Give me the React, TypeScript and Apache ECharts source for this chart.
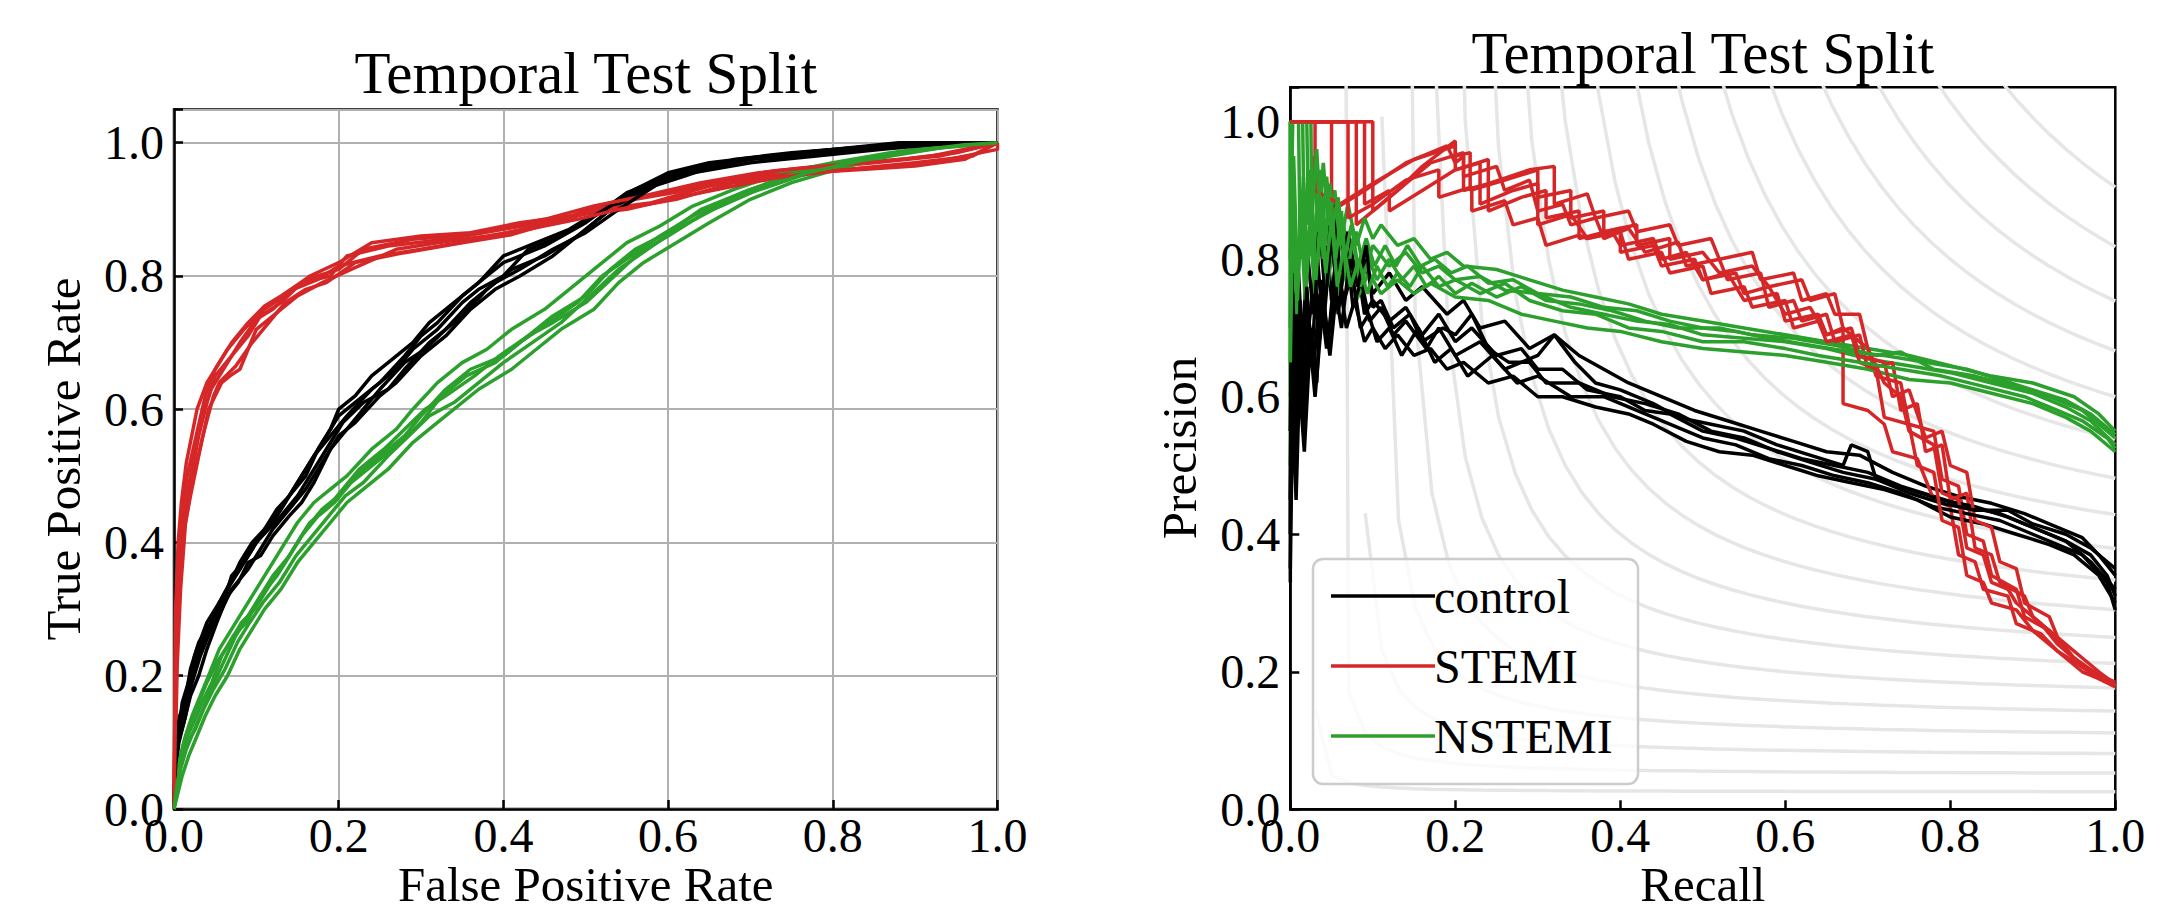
import React, { useEffect, useRef } from "react";
import * as echarts from "echarts";

type Pt = [number, number];

// ---------- ROC curves (x = False Positive Rate, y = True Positive Rate) ----------
const rocControl1: Pt[] = [[0,0],[0.002,0.08],[0.005,0.12],[0.012,0.15],[0.018,0.18],[0.027,0.22],[0.035,0.25],[0.048,0.29],[0.06,0.32],[0.075,0.35],[0.085,0.37],[0.1,0.4],[0.11,0.42],[0.13,0.45],[0.145,0.48],[0.16,0.51],[0.18,0.55],[0.2,0.59],[0.21,0.6],[0.23,0.62],[0.25,0.64],[0.28,0.68],[0.3,0.71],[0.32,0.73],[0.35,0.77],[0.38,0.8],[0.4,0.82],[0.45,0.845],[0.5,0.88],[0.55,0.925],[0.6,0.95],[0.67,0.972],[0.76,0.985],[0.85,0.995],[0.9,1],[1,1]];
const rocControl2: Pt[] = [[0,0],[0.003,0.1],[0.008,0.13],[0.015,0.17],[0.025,0.23],[0.04,0.28],[0.05,0.3],[0.065,0.33],[0.08,0.37],[0.095,0.4],[0.11,0.42],[0.125,0.45],[0.14,0.47],[0.16,0.5],[0.175,0.54],[0.19,0.57],[0.2,0.6],[0.22,0.62],[0.24,0.65],[0.26,0.67],[0.29,0.7],[0.31,0.73],[0.34,0.76],[0.37,0.79],[0.4,0.83],[0.44,0.85],[0.48,0.87],[0.52,0.9],[0.56,0.93],[0.6,0.955],[0.65,0.97],[0.72,0.98],[0.8,0.99],[0.88,1],[1,1]];
const rocControl3: Pt[] = [[0,0],[0.002,0.06],[0.006,0.1],[0.014,0.14],[0.022,0.19],[0.032,0.23],[0.045,0.27],[0.058,0.3],[0.07,0.33],[0.09,0.36],[0.105,0.39],[0.12,0.42],[0.14,0.45],[0.16,0.48],[0.18,0.52],[0.2,0.56],[0.22,0.58],[0.25,0.62],[0.27,0.64],[0.3,0.68],[0.33,0.71],[0.36,0.75],[0.39,0.78],[0.42,0.8],[0.46,0.83],[0.5,0.87],[0.54,0.91],[0.58,0.935],[0.63,0.955],[0.7,0.97],[0.78,0.98],[0.86,0.99],[0.93,0.998],[1,1]];
const rocControl4: Pt[] = [[0,0],[0.002,0.09],[0.006,0.12],[0.01,0.16],[0.02,0.2],[0.03,0.24],[0.042,0.27],[0.055,0.31],[0.068,0.34],[0.08,0.36],[0.092,0.39],[0.115,0.42],[0.13,0.44],[0.15,0.47],[0.165,0.5],[0.185,0.54],[0.205,0.58],[0.23,0.61],[0.26,0.63],[0.28,0.66],[0.31,0.7],[0.33,0.72],[0.35,0.74],[0.38,0.78],[0.41,0.81],[0.45,0.83],[0.49,0.86],[0.53,0.9],[0.57,0.93],[0.62,0.95],[0.68,0.975],[0.75,0.985],[0.83,0.993],[0.92,1],[1,1]];
const rocControl5: Pt[] = [[0,0],[0.003,0.11],[0.007,0.14],[0.013,0.16],[0.02,0.21],[0.03,0.25],[0.045,0.28],[0.06,0.31],[0.07,0.35],[0.085,0.37],[0.1,0.4],[0.12,0.43],[0.135,0.46],[0.15,0.49],[0.17,0.53],[0.19,0.56],[0.21,0.59],[0.24,0.63],[0.27,0.66],[0.29,0.69],[0.32,0.72],[0.35,0.76],[0.37,0.78],[0.4,0.8],[0.43,0.84],[0.47,0.86],[0.51,0.89],[0.55,0.92],[0.59,0.945],[0.64,0.96],[0.7,0.975],[0.77,0.982],[0.84,0.99],[0.9,0.997],[1,1]];
const rocControl6: Pt[] = [[0,0],[0.002,0.07],[0.005,0.1],[0.012,0.13],[0.02,0.17],[0.03,0.2],[0.04,0.24],[0.052,0.28],[0.065,0.32],[0.078,0.34],[0.09,0.37],[0.105,0.38],[0.12,0.41],[0.14,0.44],[0.155,0.46],[0.17,0.49],[0.19,0.54],[0.21,0.57],[0.23,0.6],[0.25,0.63],[0.28,0.67],[0.305,0.69],[0.33,0.72],[0.36,0.76],[0.39,0.79],[0.42,0.81],[0.46,0.84],[0.5,0.865],[0.54,0.9],[0.59,0.94],[0.65,0.965],[0.71,0.977],[0.79,0.988],[0.87,0.996],[1,1]];

const rocStemi1: Pt[] = [[0,0],[0.002,0.2],[0.005,0.31],[0.01,0.42],[0.018,0.48],[0.03,0.56],[0.04,0.61],[0.05,0.65],[0.07,0.68],[0.09,0.71],[0.105,0.74],[0.13,0.76],[0.155,0.79],[0.19,0.8],[0.21,0.83],[0.26,0.845],[0.33,0.855],[0.4,0.87],[0.47,0.885],[0.53,0.91],[0.6,0.925],[0.67,0.945],[0.73,0.958],[0.8,0.967],[0.89,0.976],[0.95,0.985],[1,1]];
const rocStemi2: Pt[] = [[0,0],[0.003,0.25],[0.007,0.36],[0.012,0.44],[0.02,0.5],[0.032,0.58],[0.045,0.63],[0.06,0.66],[0.08,0.7],[0.1,0.735],[0.12,0.75],[0.145,0.78],[0.175,0.795],[0.2,0.815],[0.25,0.83],[0.3,0.84],[0.37,0.855],[0.44,0.875],[0.5,0.895],[0.56,0.915],[0.63,0.93],[0.7,0.95],[0.78,0.962],[0.85,0.97],[0.93,0.98],[1,1]];
const rocStemi3: Pt[] = [[0,0],[0.002,0.28],[0.006,0.38],[0.01,0.45],[0.016,0.5],[0.025,0.55],[0.038,0.62],[0.05,0.66],[0.065,0.69],[0.085,0.72],[0.11,0.75],[0.14,0.775],[0.165,0.8],[0.2,0.82],[0.24,0.85],[0.3,0.86],[0.36,0.865],[0.42,0.88],[0.48,0.89],[0.55,0.9],[0.62,0.92],[0.7,0.94],[0.77,0.955],[0.84,0.96],[0.9,0.965],[0.96,0.975],[1,1]];
const rocStemi4: Pt[] = [[0,0],[0.004,0.22],[0.008,0.33],[0.014,0.43],[0.022,0.49],[0.035,0.56],[0.048,0.62],[0.055,0.64],[0.075,0.665],[0.095,0.7],[0.115,0.73],[0.135,0.76],[0.16,0.78],[0.185,0.79],[0.22,0.82],[0.28,0.835],[0.35,0.85],[0.41,0.862],[0.46,0.88],[0.52,0.9],[0.58,0.91],[0.65,0.935],[0.72,0.95],[0.8,0.958],[0.87,0.965],[0.94,0.975],[1,0.99],[1,1]];
const rocStemi5: Pt[] = [[0,0],[0.002,0.3],[0.005,0.4],[0.009,0.46],[0.015,0.52],[0.028,0.6],[0.04,0.64],[0.055,0.67],[0.07,0.7],[0.09,0.73],[0.11,0.755],[0.13,0.77],[0.16,0.795],[0.2,0.81],[0.23,0.84],[0.29,0.855],[0.34,0.86],[0.39,0.87],[0.45,0.885],[0.51,0.905],[0.57,0.92],[0.64,0.94],[0.71,0.955],[0.79,0.965],[0.86,0.972],[0.92,0.98],[1,1]];
const rocStemi6: Pt[] = [[0,0],[0.003,0.24],[0.006,0.35],[0.011,0.41],[0.02,0.47],[0.03,0.53],[0.042,0.6],[0.058,0.64],[0.068,0.65],[0.08,0.66],[0.1,0.72],[0.125,0.745],[0.15,0.77],[0.18,0.79],[0.215,0.81],[0.27,0.84],[0.32,0.85],[0.38,0.86],[0.43,0.87],[0.49,0.885],[0.54,0.9],[0.61,0.915],[0.68,0.94],[0.75,0.95],[0.82,0.96],[0.9,0.97],[0.97,0.98],[1,1]];

const rocNstemi1: Pt[] = [[0,0],[0.003,0.03],[0.008,0.06],[0.015,0.09],[0.025,0.12],[0.035,0.15],[0.045,0.18],[0.06,0.22],[0.075,0.26],[0.09,0.29],[0.1,0.31],[0.12,0.35],[0.14,0.38],[0.16,0.42],[0.18,0.45],[0.2,0.47],[0.22,0.5],[0.25,0.53],[0.28,0.56],[0.3,0.59],[0.33,0.63],[0.36,0.66],[0.4,0.68],[0.43,0.71],[0.46,0.74],[0.5,0.77],[0.53,0.81],[0.56,0.84],[0.6,0.865],[0.64,0.9],[0.7,0.93],[0.76,0.955],[0.82,0.972],[0.88,0.985],[0.94,0.995],[1,1]];
const rocNstemi2: Pt[] = [[0,0],[0.003,0.05],[0.008,0.08],[0.014,0.11],[0.022,0.14],[0.032,0.17],[0.042,0.2],[0.055,0.24],[0.07,0.27],[0.085,0.3],[0.1,0.33],[0.115,0.36],[0.13,0.39],[0.15,0.43],[0.17,0.46],[0.19,0.48],[0.21,0.5],[0.24,0.54],[0.27,0.57],[0.29,0.6],[0.32,0.64],[0.35,0.67],[0.38,0.69],[0.41,0.72],[0.45,0.75],[0.48,0.78],[0.52,0.82],[0.55,0.85],[0.59,0.875],[0.63,0.905],[0.68,0.93],[0.74,0.955],[0.8,0.97],[0.87,0.985],[0.93,0.995],[1,1]];
const rocNstemi3: Pt[] = [[0,0],[0.004,0.02],[0.01,0.05],[0.018,0.08],[0.028,0.11],[0.038,0.14],[0.05,0.17],[0.065,0.2],[0.08,0.24],[0.095,0.27],[0.11,0.3],[0.13,0.33],[0.15,0.37],[0.17,0.4],[0.19,0.43],[0.21,0.46],[0.23,0.48],[0.26,0.51],[0.29,0.55],[0.31,0.57],[0.34,0.6],[0.37,0.63],[0.41,0.66],[0.44,0.69],[0.47,0.72],[0.51,0.75],[0.54,0.79],[0.57,0.82],[0.61,0.85],[0.65,0.88],[0.7,0.915],[0.75,0.94],[0.81,0.962],[0.87,0.98],[0.93,0.992],[1,1]];
const rocNstemi4: Pt[] = [[0,0],[0.002,0.03],[0.006,0.07],[0.012,0.1],[0.02,0.13],[0.03,0.16],[0.04,0.19],[0.052,0.22],[0.068,0.25],[0.082,0.28],[0.098,0.3],[0.118,0.34],[0.135,0.37],[0.155,0.41],[0.175,0.44],[0.195,0.46],[0.215,0.49],[0.245,0.52],[0.275,0.55],[0.3,0.58],[0.325,0.62],[0.355,0.65],[0.39,0.67],[0.42,0.7],[0.455,0.73],[0.49,0.76],[0.52,0.8],[0.555,0.83],[0.59,0.86],[0.63,0.89],[0.69,0.925],[0.75,0.952],[0.81,0.97],[0.87,0.983],[0.94,0.994],[1,1]];
const rocNstemi5: Pt[] = [[0,0],[0.003,0.04],[0.007,0.07],[0.013,0.1],[0.024,0.13],[0.034,0.16],[0.046,0.19],[0.058,0.23],[0.072,0.26],[0.088,0.28],[0.105,0.32],[0.125,0.35],[0.145,0.39],[0.165,0.43],[0.185,0.45],[0.205,0.48],[0.225,0.51],[0.255,0.54],[0.28,0.57],[0.305,0.6],[0.33,0.62],[0.365,0.65],[0.395,0.68],[0.43,0.71],[0.46,0.73],[0.5,0.76],[0.535,0.8],[0.565,0.835],[0.6,0.86],[0.645,0.895],[0.7,0.925],[0.76,0.95],[0.82,0.97],[0.89,0.987],[0.95,0.996],[1,1]];
const rocNstemi6: Pt[] = [[0,0],[0.004,0.04],[0.009,0.07],[0.016,0.1],[0.026,0.12],[0.036,0.15],[0.048,0.18],[0.062,0.21],[0.077,0.25],[0.092,0.28],[0.108,0.31],[0.128,0.34],[0.148,0.38],[0.168,0.41],[0.188,0.44],[0.208,0.47],[0.23,0.49],[0.26,0.53],[0.285,0.56],[0.31,0.59],[0.34,0.61],[0.37,0.64],[0.4,0.67],[0.435,0.7],[0.47,0.73],[0.505,0.77],[0.54,0.81],[0.575,0.84],[0.61,0.87],[0.655,0.9],[0.71,0.93],[0.77,0.955],[0.83,0.972],[0.9,0.988],[0.96,0.997],[1,1]];

// ---------- Precision-Recall curves (x = Recall, y = Precision) ----------
const prControl1: Pt[] = [[0,0.33],[0,0.5],[0.003,0.5],[0.004,0.75],[0.008,0.6],[0.012,0.72],[0.016,0.55],[0.022,0.7],[0.03,0.78],[0.035,0.68],[0.045,0.82],[0.05,0.74],[0.06,0.85],[0.07,0.76],[0.08,0.8],[0.09,0.72],[0.1,0.74],[0.12,0.71],[0.14,0.73],[0.16,0.69],[0.18,0.72],[0.2,0.68],[0.22,0.7],[0.25,0.66],[0.28,0.67],[0.3,0.64],[0.33,0.64],[0.36,0.61],[0.4,0.6],[0.43,0.58],[0.46,0.575],[0.5,0.55],[0.54,0.54],[0.58,0.525],[0.62,0.51],[0.66,0.5],[0.7,0.49],[0.74,0.47],[0.78,0.455],[0.82,0.44],[0.86,0.43],[0.9,0.41],[0.94,0.39],[0.97,0.37],[0.99,0.34],[1,0.31]];
const prControl2: Pt[] = [[0,0.4],[0.002,0.8],[0.006,0.62],[0.01,0.78],[0.015,0.66],[0.02,0.82],[0.028,0.72],[0.035,0.86],[0.042,0.75],[0.052,0.9],[0.06,0.78],[0.07,0.84],[0.08,0.77],[0.09,0.8],[0.1,0.75],[0.12,0.78],[0.14,0.74],[0.16,0.76],[0.19,0.72],[0.21,0.74],[0.23,0.7],[0.26,0.71],[0.29,0.67],[0.32,0.69],[0.35,0.66],[0.38,0.64],[0.41,0.62],[0.45,0.6],[0.49,0.58],[0.53,0.565],[0.57,0.55],[0.61,0.535],[0.65,0.52],[0.69,0.515],[0.73,0.49],[0.77,0.47],[0.81,0.455],[0.85,0.445],[0.89,0.43],[0.93,0.41],[0.96,0.395],[0.98,0.37],[1,0.34]];
const prControl3: Pt[] = [[0,0.35],[0.003,0.6],[0.007,0.45],[0.011,0.62],[0.017,0.52],[0.024,0.68],[0.03,0.6],[0.04,0.74],[0.048,0.66],[0.058,0.78],[0.068,0.7],[0.078,0.74],[0.09,0.68],[0.1,0.7],[0.115,0.67],[0.13,0.69],[0.15,0.66],[0.17,0.67],[0.19,0.64],[0.21,0.65],[0.24,0.62],[0.27,0.63],[0.3,0.6],[0.33,0.6],[0.37,0.585],[0.41,0.575],[0.44,0.56],[0.48,0.535],[0.52,0.52],[0.56,0.515],[0.6,0.5],[0.64,0.485],[0.68,0.475],[0.72,0.465],[0.76,0.45],[0.8,0.425],[0.84,0.415],[0.88,0.4],[0.92,0.385],[0.95,0.37],[0.98,0.34],[1,0.3]];
const prControl4: Pt[] = [[0,0.5],[0.002,0.72],[0.005,0.55],[0.009,0.7],[0.014,0.6],[0.02,0.76],[0.026,0.65],[0.033,0.8],[0.04,0.7],[0.05,0.84],[0.058,0.72],[0.068,0.82],[0.076,0.73],[0.086,0.77],[0.096,0.71],[0.11,0.73],[0.125,0.69],[0.14,0.71],[0.165,0.67],[0.18,0.7],[0.2,0.66],[0.23,0.68],[0.26,0.64],[0.3,0.66],[0.32,0.69],[0.345,0.65],[0.37,0.62],[0.4,0.61],[0.44,0.59],[0.47,0.57],[0.51,0.56],[0.55,0.55],[0.59,0.53],[0.63,0.515],[0.67,0.5],[0.68,0.53],[0.7,0.52],[0.71,0.48],[0.75,0.465],[0.79,0.45],[0.83,0.44],[0.87,0.425],[0.91,0.405],[0.94,0.39],[0.97,0.36],[1,0.32]];
const prControl5: Pt[] = [[0,0.45],[0.003,0.68],[0.007,0.5],[0.012,0.74],[0.018,0.58],[0.025,0.7],[0.032,0.62],[0.038,0.77],[0.046,0.68],[0.055,0.8],[0.065,0.74],[0.075,0.78],[0.085,0.7],[0.095,0.72],[0.105,0.68],[0.12,0.7],[0.135,0.66],[0.155,0.7],[0.175,0.65],[0.195,0.67],[0.215,0.63],[0.245,0.66],[0.275,0.62],[0.3,0.63],[0.34,0.6],[0.38,0.6],[0.42,0.58],[0.46,0.56],[0.5,0.54],[0.54,0.53],[0.58,0.51],[0.62,0.5],[0.66,0.485],[0.7,0.475],[0.74,0.46],[0.78,0.44],[0.82,0.43],[0.86,0.42],[0.9,0.4],[0.93,0.385],[0.96,0.37],[0.99,0.33],[1,0.29]];
const prControl6: Pt[] = [[0,0.55],[0.002,0.78],[0.006,0.58],[0.01,0.66],[0.016,0.56],[0.022,0.72],[0.028,0.64],[0.036,0.75],[0.044,0.67],[0.054,0.76],[0.062,0.7],[0.072,0.8],[0.082,0.76],[0.092,0.82],[0.1,0.73],[0.11,0.74],[0.125,0.7],[0.145,0.72],[0.16,0.68],[0.185,0.7],[0.2,0.69],[0.22,0.72],[0.24,0.67],[0.265,0.65],[0.29,0.65],[0.31,0.62],[0.35,0.62],[0.39,0.6],[0.43,0.59],[0.47,0.575],[0.51,0.55],[0.55,0.54],[0.59,0.52],[0.63,0.505],[0.67,0.49],[0.71,0.48],[0.75,0.46],[0.79,0.445],[0.83,0.435],[0.87,0.435],[0.9,0.415],[0.94,0.4],[0.97,0.38],[1,0.35]];

const prStemi1: Pt[] = [[0,1],[0.1,1],[0.1,0.87],[0.13,0.9],[0.16,0.935],[0.2,0.972],[0.2,0.95],[0.218,0.955],[0.218,0.9],[0.26,0.915],[0.3,0.93],[0.3,0.89],[0.34,0.9],[0.34,0.86],[0.38,0.87],[0.38,0.84],[0.42,0.85],[0.42,0.82],[0.46,0.83],[0.46,0.8],[0.5,0.81],[0.52,0.78],[0.56,0.79],[0.58,0.76],[0.62,0.77],[0.63,0.74],[0.66,0.75],[0.67,0.7],[0.7,0.67],[0.71,0.63],[0.74,0.62],[0.75,0.56],[0.78,0.55],[0.79,0.48],[0.81,0.47],[0.82,0.4],[0.84,0.39],[0.85,0.34],[0.88,0.32],[0.89,0.28],[0.92,0.26],[0.94,0.23],[0.97,0.2],[1,0.18]];
const prStemi2: Pt[] = [[0,1],[0.08,1],[0.08,0.85],[0.12,0.89],[0.17,0.94],[0.21,0.955],[0.21,0.9],[0.24,0.91],[0.24,0.87],[0.28,0.89],[0.31,0.9],[0.31,0.86],[0.35,0.87],[0.35,0.83],[0.4,0.845],[0.4,0.81],[0.44,0.82],[0.45,0.79],[0.49,0.8],[0.5,0.77],[0.54,0.78],[0.55,0.75],[0.58,0.76],[0.6,0.72],[0.63,0.73],[0.65,0.69],[0.67,0.7],[0.67,0.59],[0.7,0.58],[0.72,0.56],[0.73,0.52],[0.76,0.51],[0.78,0.45],[0.8,0.44],[0.81,0.37],[0.83,0.36],[0.84,0.32],[0.87,0.31],[0.88,0.27],[0.91,0.255],[0.93,0.23],[0.96,0.2],[0.98,0.19],[1,0.178]];
const prStemi3: Pt[] = [[0,1],[0.05,1],[0.05,0.87],[0.09,0.9],[0.14,0.94],[0.19,0.965],[0.2,0.94],[0.21,0.95],[0.21,0.92],[0.25,0.935],[0.26,0.9],[0.29,0.915],[0.3,0.87],[0.33,0.88],[0.34,0.85],[0.37,0.86],[0.38,0.83],[0.41,0.845],[0.43,0.81],[0.47,0.825],[0.48,0.79],[0.52,0.8],[0.53,0.77],[0.57,0.78],[0.58,0.73],[0.61,0.74],[0.62,0.71],[0.65,0.72],[0.66,0.68],[0.69,0.69],[0.7,0.64],[0.73,0.65],[0.74,0.58],[0.76,0.59],[0.77,0.52],[0.79,0.53],[0.8,0.45],[0.82,0.46],[0.83,0.38],[0.85,0.37],[0.86,0.33],[0.89,0.31],[0.9,0.28],[0.93,0.25],[0.95,0.22],[0.98,0.195],[1,0.185]];
const prStemi4: Pt[] = [[0,1],[0.09,1],[0.09,0.88],[0.12,0.9],[0.12,0.87],[0.16,0.9],[0.2,0.93],[0.23,0.94],[0.23,0.88],[0.27,0.9],[0.3,0.91],[0.3,0.85],[0.34,0.865],[0.36,0.83],[0.39,0.84],[0.4,0.82],[0.44,0.83],[0.45,0.8],[0.48,0.81],[0.5,0.77],[0.53,0.78],[0.55,0.74],[0.59,0.75],[0.6,0.71],[0.64,0.72],[0.65,0.69],[0.68,0.7],[0.69,0.66],[0.72,0.65],[0.73,0.6],[0.75,0.61],[0.77,0.54],[0.79,0.55],[0.8,0.5],[0.82,0.49],[0.83,0.42],[0.85,0.41],[0.86,0.36],[0.88,0.35],[0.89,0.3],[0.92,0.28],[0.93,0.25],[0.96,0.22],[0.98,0.2],[1,0.182]];
const prStemi5: Pt[] = [[0,1],[0.03,1],[0.03,0.9],[0.06,0.88],[0.1,0.91],[0.15,0.945],[0.2,0.965],[0.2,0.93],[0.24,0.945],[0.24,0.91],[0.29,0.93],[0.32,0.935],[0.32,0.88],[0.36,0.895],[0.37,0.86],[0.41,0.87],[0.42,0.84],[0.46,0.85],[0.47,0.82],[0.51,0.83],[0.52,0.8],[0.56,0.81],[0.57,0.77],[0.61,0.78],[0.62,0.74],[0.65,0.75],[0.66,0.72],[0.69,0.72],[0.7,0.67],[0.72,0.62],[0.74,0.6],[0.75,0.55],[0.78,0.53],[0.79,0.46],[0.81,0.45],[0.82,0.38],[0.84,0.37],[0.85,0.33],[0.87,0.32],[0.88,0.3],[0.91,0.27],[0.93,0.24],[0.96,0.21],[0.98,0.195],[1,0.18]];
const prStemi6: Pt[] = [[0,1],[0.07,1],[0.07,0.86],[0.1,0.88],[0.14,0.915],[0.18,0.93],[0.18,0.89],[0.22,0.905],[0.22,0.87],[0.26,0.885],[0.27,0.85],[0.3,0.86],[0.31,0.82],[0.35,0.835],[0.36,0.83],[0.4,0.84],[0.41,0.8],[0.45,0.81],[0.46,0.78],[0.5,0.79],[0.51,0.75],[0.55,0.76],[0.56,0.73],[0.6,0.74],[0.61,0.7],[0.64,0.71],[0.65,0.68],[0.68,0.69],[0.69,0.65],[0.71,0.64],[0.72,0.57],[0.75,0.56],[0.76,0.5],[0.78,0.49],[0.79,0.42],[0.81,0.41],[0.82,0.34],[0.84,0.33],[0.85,0.3],[0.88,0.29],[0.9,0.26],[0.93,0.23],[0.95,0.215],[0.98,0.19],[1,0.18]];

const prNstemi1: Pt[] = [[0,0.5],[0,1],[0.01,1],[0.012,0.8],[0.016,0.92],[0.02,0.78],[0.026,0.9],[0.03,0.8],[0.036,0.93],[0.042,0.82],[0.05,0.88],[0.056,0.78],[0.064,0.86],[0.07,0.79],[0.08,0.84],[0.09,0.78],[0.1,0.82],[0.12,0.79],[0.14,0.81],[0.16,0.78],[0.18,0.79],[0.2,0.77],[0.23,0.775],[0.26,0.755],[0.3,0.75],[0.34,0.73],[0.38,0.72],[0.42,0.71],[0.46,0.705],[0.5,0.69],[0.55,0.685],[0.6,0.68],[0.65,0.67],[0.7,0.655],[0.75,0.645],[0.8,0.635],[0.85,0.62],[0.9,0.605],[0.94,0.585],[0.97,0.565],[1,0.53]];
const prNstemi2: Pt[] = [[0,0.6],[0,1],[0.02,1],[0.022,0.85],[0.028,0.95],[0.034,0.84],[0.04,0.94],[0.046,0.85],[0.054,0.9],[0.06,0.82],[0.07,0.88],[0.08,0.82],[0.09,0.86],[0.1,0.83],[0.11,0.85],[0.13,0.82],[0.15,0.83],[0.17,0.8],[0.19,0.81],[0.21,0.79],[0.25,0.785],[0.29,0.77],[0.33,0.755],[0.37,0.745],[0.41,0.735],[0.45,0.72],[0.5,0.71],[0.55,0.7],[0.6,0.69],[0.65,0.68],[0.7,0.67],[0.75,0.66],[0.8,0.645],[0.85,0.63],[0.9,0.62],[0.95,0.6],[0.98,0.575],[1,0.55]];
const prNstemi3: Pt[] = [[0,0.55],[0.003,0.9],[0.008,0.72],[0.013,0.86],[0.018,0.74],[0.024,0.84],[0.03,0.75],[0.038,0.86],[0.045,0.76],[0.052,0.82],[0.06,0.75],[0.07,0.8],[0.08,0.74],[0.095,0.78],[0.11,0.75],[0.13,0.77],[0.15,0.75],[0.17,0.765],[0.2,0.745],[0.24,0.74],[0.28,0.72],[0.32,0.71],[0.36,0.7],[0.4,0.695],[0.45,0.68],[0.5,0.67],[0.55,0.665],[0.6,0.66],[0.65,0.65],[0.7,0.64],[0.75,0.625],[0.8,0.62],[0.85,0.605],[0.9,0.59],[0.94,0.57],[0.97,0.55],[1,0.52]];
const prNstemi4: Pt[] = [[0,0.7],[0.002,1],[0.015,1],[0.017,0.82],[0.022,0.93],[0.028,0.8],[0.034,0.9],[0.04,0.8],[0.048,0.91],[0.055,0.8],[0.062,0.87],[0.068,0.77],[0.076,0.83],[0.085,0.76],[0.095,0.8],[0.105,0.77],[0.12,0.8],[0.135,0.77],[0.15,0.79],[0.165,0.76],[0.18,0.775],[0.2,0.75],[0.22,0.765],[0.25,0.745],[0.28,0.76],[0.31,0.74],[0.35,0.735],[0.39,0.725],[0.43,0.71],[0.47,0.7],[0.52,0.7],[0.56,0.69],[0.61,0.685],[0.66,0.675],[0.71,0.66],[0.74,0.665],[0.78,0.64],[0.83,0.63],[0.88,0.615],[0.92,0.6],[0.96,0.58],[1,0.54]];
const prNstemi5: Pt[] = [[0,0.8],[0.003,1],[0.025,1],[0.026,0.86],[0.032,0.96],[0.038,0.83],[0.044,0.92],[0.05,0.84],[0.058,0.89],[0.066,0.8],[0.074,0.85],[0.082,0.79],[0.092,0.83],[0.102,0.79],[0.115,0.82],[0.128,0.79],[0.142,0.82],[0.158,0.79],[0.175,0.8],[0.195,0.78],[0.215,0.79],[0.24,0.765],[0.27,0.77],[0.3,0.75],[0.34,0.745],[0.38,0.73],[0.42,0.725],[0.46,0.71],[0.5,0.7],[0.54,0.695],[0.58,0.685],[0.63,0.675],[0.68,0.665],[0.72,0.66],[0.77,0.65],[0.82,0.64],[0.86,0.625],[0.9,0.61],[0.94,0.595],[0.97,0.575],[1,0.545]];
const prNstemi6: Pt[] = [[0,0.65],[0.004,0.95],[0.009,0.76],[0.014,0.9],[0.019,0.78],[0.025,0.88],[0.031,0.77],[0.037,0.87],[0.043,0.78],[0.05,0.86],[0.057,0.76],[0.065,0.82],[0.073,0.76],[0.083,0.8],[0.093,0.75],[0.105,0.79],[0.118,0.76],[0.13,0.78],[0.145,0.76],[0.16,0.79],[0.18,0.76],[0.2,0.77],[0.23,0.75],[0.26,0.765],[0.29,0.74],[0.33,0.725],[0.37,0.72],[0.41,0.7],[0.45,0.695],[0.5,0.68],[0.55,0.68],[0.6,0.67],[0.64,0.66],[0.69,0.65],[0.74,0.64],[0.79,0.63],[0.84,0.615],[0.89,0.6],[0.93,0.58],[0.96,0.565],[0.99,0.54],[1,0.525]];

const ROC_CONTROL = [rocControl1, rocControl2, rocControl3, rocControl4, rocControl5, rocControl6];
const ROC_STEMI = [rocStemi1, rocStemi2, rocStemi3, rocStemi4, rocStemi5, rocStemi6];
const ROC_NSTEMI = [rocNstemi1, rocNstemi2, rocNstemi3, rocNstemi4, rocNstemi5, rocNstemi6];
const PR_CONTROL = [prControl1, prControl2, prControl3, prControl4, prControl5, prControl6];
const PR_STEMI = [prStemi1, prStemi2, prStemi3, prStemi4, prStemi5, prStemi6];
const PR_NSTEMI = [prNstemi1, prNstemi2, prNstemi3, prNstemi4, prNstemi5, prNstemi6];

// iso-F1 reference curves
const F1_LEVELS = [0.05, 0.1, 0.15, 0.2, 0.25, 0.3, 0.35, 0.4, 0.45, 0.5, 0.55, 0.6, 0.65, 0.7, 0.75, 0.8, 0.85, 0.9, 0.95];
const ISO_RECALL_START = 0.01;
const ISO_RECALL_END = 1;
const ISO_SAMPLES = 50;

const CLASS_NAMES = ["control", "STEMI", "NSTEMI"];
const CLASS_COLORS = ["#000000", "#d62728", "#2ca02c"];
const TICKS = [0, 0.2, 0.4, 0.6, 0.8, 1.0];
const TITLE = "Temporal Test Split";

const FONT = "'Liberation Serif', 'Times New Roman', serif";

function isoCurve(f: number): Pt[] {
  const pts: Pt[] = [];
  for (let i = 0; i < ISO_SAMPLES; i++) {
    const r = ISO_RECALL_START + (i * (ISO_RECALL_END - ISO_RECALL_START)) / (ISO_SAMPLES - 1);
    const p = (f * r) / (2 * r - f);
    if (p >= 0) pts.push([r, p]);
  }
  return pts;
}

const tickFmt = (v: number) => {
  const ok = TICKS.some((t) => Math.abs(t - v) < 1e-6);
  return ok ? v.toFixed(1) : "";
};

function makeAxis(grid: number, isX: boolean, showSplit: boolean) {
  return {
    gridIndex: grid,
    type: "value",
    min: 0,
    max: isX ? 1 : 1.05,
    interval: 0.2,
    axisLine: { show: true, onZero: false, lineStyle: { color: "#000", width: 2.5 } },
    axisTick: { show: true, inside: true, length: 9, lineStyle: { color: "#000", width: 2.5 } },
    splitLine: { show: showSplit, lineStyle: { color: "#b0b0b0", width: 2 } },
    axisLabel: {
      show: true,
      fontSize: 48,
      fontFamily: FONT,
      color: "#000",
      margin: isX ? 2 : 10,
      showMinLabel: true,
      showMaxLabel: true,
      formatter: tickFmt,
    },
  };
}

export default function App() {
  const ref = useRef<HTMLDivElement>(null);

  useEffect(() => {
    if (!ref.current) return;
    const chart = echarts.init(ref.current, undefined, { renderer: "svg" });

    const series: any[] = [];
    F1_LEVELS.forEach((f) => {
      series.push({
        type: "line",
        xAxisIndex: 1,
        yAxisIndex: 1,
        data: isoCurve(f),
        symbol: "none",
        showSymbol: false,
        silent: true,
        clip: true,
        z: 1,
        lineStyle: { color: "#e6e6e6", width: 3.5 },
      });
    });
    const rocGroups = [ROC_CONTROL, ROC_STEMI, ROC_NSTEMI];
    const prGroups = [PR_CONTROL, PR_STEMI, PR_NSTEMI];
    for (let i = 0; i < 6; i++) {
      for (let c = 0; c < 3; c++) {
        series.push({
          type: "line",
          name: CLASS_NAMES[c],
          xAxisIndex: 0,
          yAxisIndex: 0,
          data: rocGroups[c][i],
          symbol: "none",
          showSymbol: false,
          silent: true,
          clip: true,
          z: 3,
          lineStyle: { color: CLASS_COLORS[c], width: 3.5 },
        });
        series.push({
          type: "line",
          name: CLASS_NAMES[c],
          xAxisIndex: 1,
          yAxisIndex: 1,
          data: prGroups[c][i],
          symbol: "none",
          showSymbol: false,
          silent: true,
          clip: true,
          z: 3,
          lineStyle: { color: CLASS_COLORS[c], width: 3.5 },
        });
      }
    }

    const textStyle = (text: string, size: number, align = "center") => ({
      text,
      fontSize: size,
      fontFamily: FONT,
      fill: "#000",
      align,
      verticalAlign: "middle",
    });

    const legendX = 1313;
    const legendY = 559;
    const legendRows = [596, 666, 736];
    const graphic: any[] = [
      { type: "text", x: 585.75, y: 73.4, z: 100, style: textStyle(TITLE, 59) },
      { type: "text", x: 1702.8, y: 53.2, z: 100, style: textStyle(TITLE, 59) },
      { type: "text", x: 585.75, y: 884, z: 100, style: textStyle("False Positive Rate", 49) },
      { type: "text", x: 1702.8, y: 884, z: 100, style: textStyle("Recall", 49) },
      { type: "text", x: 63.4, y: 459, rotation: Math.PI / 2, z: 100, style: textStyle("True Positive Rate", 49) },
      { type: "text", x: 1179.7, y: 448, rotation: Math.PI / 2, z: 100, style: textStyle("Precision", 49) },
      {
        type: "rect",
        z: 100,
        shape: { x: legendX, y: legendY, width: 325, height: 225, r: 10 },
        style: { fill: "rgba(255,255,255,0.8)", stroke: "#cccccc", lineWidth: 2.5 },
      },
    ];
    CLASS_NAMES.forEach((name, i) => {
      graphic.push({
        type: "line",
        z: 101,
        shape: { x1: 1331, y1: legendRows[i], x2: 1435, y2: legendRows[i] },
        style: { stroke: CLASS_COLORS[i], lineWidth: 3.5 },
      });
      graphic.push({
        type: "text",
        z: 102,
        x: 1434,
        y: legendRows[i],
        style: textStyle(name, 48, "left"),
      });
    });

    chart.setOption({
      animation: false,
      backgroundColor: "#ffffff",
      textStyle: { fontFamily: FONT },
      grid: [
        { left: 174, top: 109.4, width: 823.5, height: 699.6, show: true, borderColor: "#000", borderWidth: 2.5, backgroundColor: "transparent" },
        { left: 1290.3, top: 87.3, width: 825, height: 722, show: true, borderColor: "#000", borderWidth: 2.5, backgroundColor: "transparent" },
      ],
      xAxis: [makeAxis(0, true, true), makeAxis(1, true, false)],
      yAxis: [makeAxis(0, false, true), makeAxis(1, false, false)],
      series,
      graphic,
    });

    return () => chart.dispose();
  }, []);

  return (
    <div
      ref={ref}
      style={{ position: "absolute", left: 0, top: 0, width: 2184, height: 918, background: "#fff" }}
    />
  );
}
